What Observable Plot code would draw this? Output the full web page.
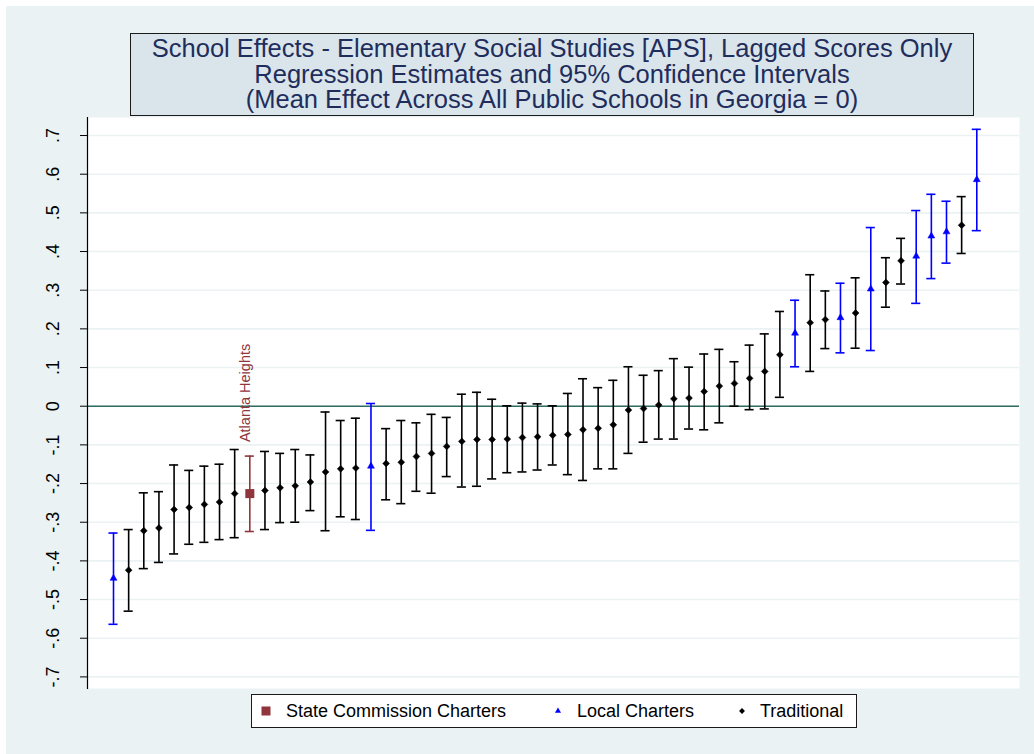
<!DOCTYPE html>
<html>
<head>
<meta charset="utf-8">
<script src="https://cdn.jsdelivr.net/npm/d3@7"></script>
<script src="https://cdn.jsdelivr.net/npm/@observablehq/plot@0.6"></script>
<style>
  html, body { margin: 0; padding: 0; background: #ffffff; }
  body { width: 1034px; height: 754px; overflow: hidden; font-family: "Liberation Sans", Arial, sans-serif; }
  #wrap { position: absolute; left: 6px; top: 6px; width: 1028px; height: 748px; background: #eaf2f3; }
  #chart { position: absolute; left: 0; top: 0; }
  #title { position: absolute; left: 124px; top: 27px; width: 844px; height: 83px; box-sizing: border-box;
           border: 1px solid #1a1a1a; background: #d9e5eb; color: #1f2d5c; text-align: center;
           font-size: 25.5px; line-height: 25.5px; padding-top: 2px; white-space: nowrap; }
  #legend { position: absolute; left: 245px; top: 688px; width: 606px; height: 34px; box-sizing: border-box;
            border: 1px solid #1a1a1a; background: #ffffff; font-size: 18px; color: #000; }
  .lg-sym { position: absolute; top: 0; }
  .lg-txt { position: absolute; top: 6px; white-space: nowrap; }
</style>
</head>
<body>
<div id="wrap">
  <div id="chart"></div>
  <div id="title"></div>
  <div id="legend"></div>
</div>
<script>
// ---- Data ----
const titleLines = [
  "School Effects - Elementary Social Studies [APS], Lagged Scores Only",
  "Regression Estimates and 95% Confidence Intervals",
  "(Mean Effect Across All Public Schools in Georgia = 0)"
];
const categories = ["State Commission Charters", "Local Charters", "Traditional"];
const categoryCodes = { S: "State Commission Charters", L: "Local Charters", T: "Traditional" };

// school type for each of the 58 schools (sorted by estimate)
const schoolTypes = [
  "L","T","T","T","T","T","T","T","T","S",
  "T","T","T","T","T","T","T","L","T","T",
  "T","T","T","T","T","T","T","T","T","T",
  "T","T","T","T","T","T","T","T","T","T",
  "T","T","T","T","T","L","T","T","L","T",
  "L","T","T","L","L","L","T","L"
];
const estimates = [
  -0.445,-0.424,-0.322,-0.315,-0.267,-0.262,-0.254,-0.248,-0.226,-0.226,
  -0.218,-0.211,-0.206,-0.196,-0.170,-0.162,-0.160,-0.155,-0.148,-0.145,
  -0.130,-0.122,-0.104,-0.091,-0.086,-0.086,-0.085,-0.081,-0.079,-0.075,
  -0.073,-0.061,-0.057,-0.048,-0.010,-0.006, 0.003, 0.019, 0.021, 0.038,
   0.052, 0.059, 0.072, 0.090, 0.133, 0.189, 0.216, 0.224, 0.229, 0.241,
   0.303, 0.320, 0.376, 0.388, 0.440, 0.451, 0.468, 0.586
];
const ciLow = [
  -0.564,-0.530,-0.420,-0.404,-0.382,-0.357,-0.352,-0.345,-0.340,-0.324,
  -0.319,-0.301,-0.300,-0.270,-0.322,-0.286,-0.293,-0.321,-0.242,-0.252,
  -0.220,-0.225,-0.182,-0.209,-0.207,-0.188,-0.172,-0.170,-0.165,-0.152,
  -0.177,-0.192,-0.162,-0.162,-0.122,-0.093,-0.085,-0.085,-0.059,-0.061,
  -0.043, 0.000,-0.009,-0.007, 0.023, 0.102, 0.090, 0.149, 0.138, 0.150,
   0.144, 0.256, 0.316, 0.266, 0.330, 0.370, 0.395, 0.454
];
const ciHigh = [
  -0.328,-0.319,-0.224,-0.221,-0.152,-0.166,-0.155,-0.150,-0.112,-0.129,
  -0.117,-0.122,-0.112,-0.126,-0.015,-0.037,-0.031, 0.007,-0.058,-0.037,
  -0.043,-0.021,-0.029, 0.031, 0.036, 0.018, 0.001, 0.008, 0.006, 0.001,
   0.033, 0.071, 0.048, 0.067, 0.102, 0.080, 0.092, 0.123, 0.101, 0.135,
   0.147, 0.115, 0.158, 0.187, 0.245, 0.274, 0.340, 0.298, 0.318, 0.332,
   0.462, 0.384, 0.434, 0.506, 0.548, 0.530, 0.542, 0.716
];
const labelIndex = [10];
const labelNames = ["Atlanta Heights"];
const yTicks = [-0.7,-0.6,-0.5,-0.4,-0.3,-0.2,-0.1,0,0.1,0.2,0.3,0.4,0.5,0.6,0.7];
const yTickLabels = ["-.7","-.6","-.5","-.4","-.3","-.2","-.1","0",".1",".2",".3",".4",".5",".6",".7"];

// ---- Styles ----
const colors = { "State Commission Charters": "#90353b", "Local Charters": "#0000ff", "Traditional": "#000000" };
const font = '"Liberation Sans", Arial, sans-serif';

// ---- Build rows ----
const rows = estimates.map((e, k) => ({
  i: k + 1,
  est: e,
  lo: ciLow[k],
  hi: ciHigh[k],
  type: categoryCodes[schoolTypes[k]]
}));
const labelRows = labelIndex.map((ix, k) => ({ i: ix, hi: ciHigh[ix - 1], name: labelNames[k] }));

const plot = Plot.plot({
  width: 1028,
  height: 748,
  marginLeft: 81,
  marginRight: 15,
  marginTop: 111,
  marginBottom: 66,
  style: { background: "transparent", fontFamily: font, overflow: "visible" },
  x: { domain: [-0.717, 60.82], axis: null },
  y: { domain: [-0.730, 0.7466], axis: null },
  color: { domain: categories, range: categories.map(c => colors[c]) },
  marks: [
    Plot.frame({ fill: "white", stroke: null }),
    Plot.gridY(yTicks, { stroke: "#eaf2f3", strokeOpacity: 1, strokeWidth: 1.6 }),
    Plot.ruleY([0], { stroke: "#2e6b63", strokeWidth: 1.6 }),
    Plot.frame({ anchor: "left", stroke: "#000", strokeWidth: 1.2 }),
    Plot.axisY(yTicks, {
      anchor: "left", tickSize: 7, tickRotate: -90, tickPadding: 22, fontSize: 18,
      tickFormat: d => yTickLabels[yTicks.indexOf(d)], stroke: "#000", fill: "#000", label: null
    }),
    // CI bars
    Plot.ruleX(rows, { x: "i", y1: "lo", y2: "hi", stroke: "type", strokeWidth: 1.6 }),
    Plot.ruleY(rows, { y: "hi", x1: d => d.i - 0.3, x2: d => d.i + 0.3, stroke: "type", strokeWidth: 1.6 }),
    Plot.ruleY(rows, { y: "lo", x1: d => d.i - 0.3, x2: d => d.i + 0.3, stroke: "type", strokeWidth: 1.6 }),
    // markers
    Plot.dot(rows, { filter: d => d.type === "Traditional", x: "i", y: "est", symbol: "diamond2", r: 3.1, fill: "type", stroke: "type", strokeWidth: 0.5 }),
    Plot.dot(rows, { filter: d => d.type === "Local Charters", x: "i", y: "est", symbol: "triangle", r: 2.6, fill: "type", stroke: "type", strokeWidth: 0.5 }),
    Plot.dot(rows, { filter: d => d.type === "State Commission Charters", x: "i", y: "est", symbol: "square", r: 5.1, fill: "type", stroke: null }),
    // marker label
    Plot.text(labelRows, { x: "i", y: "hi", text: "name", rotate: -90, textAnchor: "start", lineAnchor: "middle",
      dx: -4.5, dy: -14, fill: colors["State Commission Charters"], fontSize: 14.5, fontFamily: font })
  ]
});
document.getElementById("chart").appendChild(plot);

// ---- Title ----
document.getElementById("title").innerHTML = titleLines.map(t => `<div>${t}</div>`).join("");

// ---- Legend ----
const legendSymbols = {
  "State Commission Charters": `<svg width="12" height="32"><rect x="1.5" y="11.5" width="9" height="9" fill="${colors["State Commission Charters"]}"/></svg>`,
  "Local Charters": `<svg width="12" height="32"><path d="${d3.symbol(d3.symbolTriangle, 16)()}" transform="translate(6,16)" fill="${colors["Local Charters"]}"/></svg>`,
  "Traditional": `<svg width="12" height="32"><path d="${d3.symbol(d3.symbolDiamond2, 22)()}" transform="translate(6,16)" fill="${colors["Traditional"]}"/></svg>`
};
const legendSymX = [7.5, 299.5, 483.5];
const legendTxtX = [34, 325, 508];
const lg = document.getElementById("legend");
categories.forEach((c, k) => {
  const s = document.createElement("div");
  s.className = "lg-sym"; s.style.left = legendSymX[k] + "px"; s.innerHTML = legendSymbols[c];
  lg.appendChild(s);
  const t = document.createElement("div");
  t.className = "lg-txt"; t.style.left = legendTxtX[k] + "px"; t.textContent = c;
  lg.appendChild(t);
});
</script>
</body>
</html>
